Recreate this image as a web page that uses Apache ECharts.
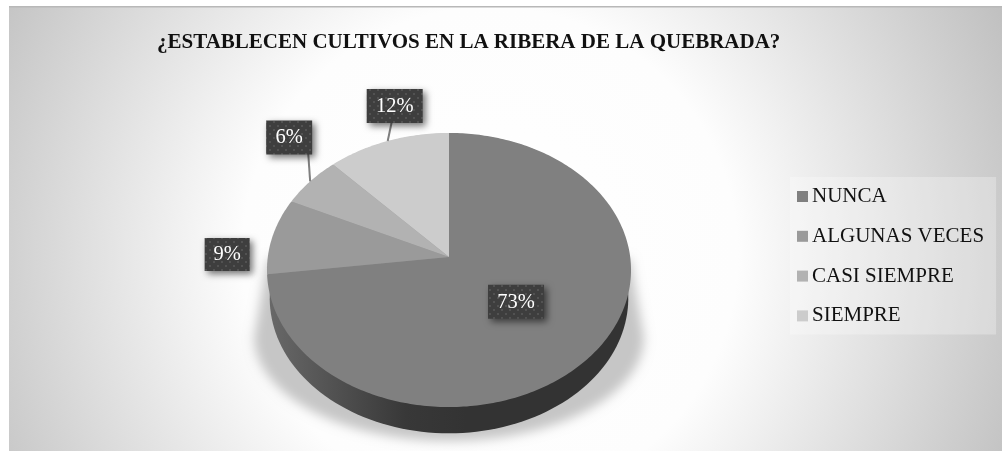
<!DOCTYPE html>
<html>
<head>
<meta charset="utf-8">
<style>html,body{margin:0;padding:0;background:#fff}#chart{width:1002px;height:451px}</style>
<script src="https://cdn.jsdelivr.net/npm/echarts@6/dist/echarts.min.js"></script>
</head>
<body>
<div id="chart"></div>
<script>
// Encuesta sobre cultivos en la ribera de la quebrada (porcentajes)
const categories = ['NUNCA', 'ALGUNAS VECES', 'CASI SIEMPRE', 'SIEMPRE'];
const percentages = [73, 9, 6, 12];
const sliceColors = ['#808080', '#9a9a9a', '#b2b2b2', '#cccccc'];
const titleText = '¿ESTABLECEN CULTIVOS EN LA RIBERA DE LA QUEBRADA?';

// Tilted disc: a unit circle seen through a simple perspective.
const APEX = { x: 449, y: 257 };
const RADIUS_X = 181.2, RADIUS_Y = 135.8, TILT = 0.0949, DEPTH = 28.5;
const serif = '"Liberation Serif", "Times New Roman", serif';

// Label box offsets from the midpoint of each slice's outer arc.
const labelOffsets = [[-78, -51], [-45.5, 18.5], [-21, -44], [7, -35]];
const labelSizes = [[56, 34], [45, 33], [46, 34], [56, 34]];
// Leader end on the box edge, relative to the arc midpoint (null: no leader).
const leaderEnds = [null, null, [-2, -29], [4, -19]];

function project(theta, scale, dy) {
  const X = Math.sin(theta), Y = Math.cos(theta), d = 1 + TILT * Y;
  const s = scale === undefined ? 1 : scale;
  return [APEX.x + s * RADIUS_X * X / d, APEX.y - s * RADIUS_Y * Y / d + (dy || 0)];
}
function discPoints(scale, dy) {
  const pts = [];
  for (let i = 0; i < 180; i++) pts.push(project(i / 180 * 2 * Math.PI, scale, dy));
  return pts;
}
function toAngle(p) {
  const total = percentages.reduce((a, b) => a + b, 0);
  return p / total * 2 * Math.PI;
}
function startOf(i) {
  return percentages.slice(0, i).reduce((a, b) => a + b, 0);
}

// Dotted fill of the label boxes
const tile = document.createElement('canvas');
tile.width = tile.height = 8;
const tc = tile.getContext('2d');
tc.fillStyle = '#3e3e3e'; tc.fillRect(0, 0, 8, 8);
tc.fillStyle = '#525252'; tc.fillRect(1, 1, 2, 2); tc.fillRect(5, 5, 2, 2);

// Soft cast shadow and side wall under the disc
const SHADOW_SHIFT = 3000; // the caster sits off canvas, only its blur lands on the page
const baseSeries = {
  type: 'custom', coordinateSystem: 'none', silent: true, z: 2,
  data: [[0]],
  renderItem() {
    const low = [];
    for (let i = 0; i <= 60; i++) {
      const a = Math.PI * i / 60;
      low.push([APEX.x + 195 * Math.cos(a) - SHADOW_SHIFT, APEX.y + 80 + 104 * Math.sin(a)]);
    }
    const cast = [[APEX.x + 181 - SHADOW_SHIFT, APEX.y + 2]].concat(low, [[APEX.x - 181 - SHADOW_SHIFT, APEX.y + 2]]);
    return {
      type: 'group',
      children: [
        { type: 'polygon', shape: { points: cast },
          style: { fill: '#000', shadowBlur: 11, shadowColor: '#c6c6c6', shadowOffsetX: SHADOW_SHIFT } },
        { type: 'polygon', shape: { points: discPoints(0.985, DEPTH) },
          style: { fill: { type: 'linear', x: 0, y: 0, x2: 1, y2: 0, colorStops: [
            { offset: 0, color: '#686868' }, { offset: 0.38, color: '#383838' },
            { offset: 0.55, color: '#333333' }, { offset: 1, color: '#333333' }] } } },
        { type: 'polygon', shape: { points: discPoints(0.995, 0) }, style: { fill: '#8a8a8a' } }
      ]
    };
  }
};

// One series per answer, so the legend picks up names and colours
const sliceSeries = categories.map((name, i) => ({
  type: 'custom', name, coordinateSystem: 'none', silent: true, z: 3,
  itemStyle: { color: sliceColors[i] },
  data: [[percentages[i]]],
  renderItem(params, api) {
    const a0 = toAngle(startOf(i)), a1 = a0 + toAngle(api.value(0));
    const n = Math.max(8, Math.round((a1 - a0) * 60));
    const pts = [[APEX.x, APEX.y]];
    for (let k = 0; k <= n; k++) pts.push(project(a0 + (a1 - a0) * k / n));
    return { type: 'polygon', shape: { points: pts }, style: { fill: sliceColors[i] } };
  }
}));

const labelSeries = {
  type: 'custom', coordinateSystem: 'none', silent: true, z: 5,
  data: percentages.map(v => [v]),
  renderItem(params, api) {
    const i = params.dataIndex, v = api.value(0);
    const anchor = project(toAngle(startOf(i) + v / 2));
    const cx = anchor[0] + labelOffsets[i][0], cy = anchor[1] + labelOffsets[i][1];
    const w = labelSizes[i][0], h = labelSizes[i][1];
    const children = [];
    if (leaderEnds[i]) {
      children.push({ type: 'line',
        shape: { x1: anchor[0], y1: anchor[1], x2: anchor[0] + leaderEnds[i][0], y2: anchor[1] + leaderEnds[i][1] },
        style: { stroke: '#7f7f7f', lineWidth: 2 } });
    }
    children.push({ type: 'rect', shape: { x: cx - w / 2, y: cy - h / 2, width: w, height: h },
      style: { fill: { image: tile, repeat: 'repeat' }, shadowBlur: 7, shadowColor: 'rgba(0,0,0,0.55)', shadowOffsetX: 3, shadowOffsetY: 3 } });
    children.push({ type: 'text', x: cx, y: cy + 0.5,
      style: { text: v + '%', fill: '#ffffff', font: '20.5px ' + serif, align: 'center', verticalAlign: 'middle' } });
    return { type: 'group', children };
  }
};

const chart = echarts.init(document.getElementById('chart'), null, { renderer: 'canvas' });
chart.setOption({
  animation: false,
  backgroundColor: '#ffffff',
  graphic: [
    { type: 'rect', z: 0, silent: true, shape: { x: 9, y: 6, width: 993, height: 445 },
      style: { fill: { type: 'radial', global: true, x: 490, y: 255, r: 590, colorStops: [
        { offset: 0, color: '#ffffff' }, { offset: 0.42, color: '#fdfdfd' },
        { offset: 1, color: '#bcbcbc' }] } } },
    { type: 'rect', z: 0, silent: true, shape: { x: 9, y: 6, width: 993, height: 1.5 }, style: { fill: '#b8b8b8' } }
  ],
  title: {
    text: titleText, left: 157, top: 32, padding: 0,
    textStyle: { fontFamily: serif, fontWeight: 'bold', fontSize: 21, color: '#111111', lineHeight: 22 }
  },
  legend: {
    data: categories, orient: 'vertical', left: 790, top: 177, padding: [9, 12, 8, 7],
    backgroundColor: 'rgba(255,255,255,0.28)',
    icon: 'rect', itemWidth: 11, itemHeight: 11, itemGap: 18.8, selectedMode: false,
    textStyle: { fontFamily: serif, fontSize: 21, color: '#111111', lineHeight: 20, padding: [0, 0, 0, -1] }
  },
  series: [baseSeries].concat(sliceSeries, [labelSeries])
});
</script>
</body>
</html>
